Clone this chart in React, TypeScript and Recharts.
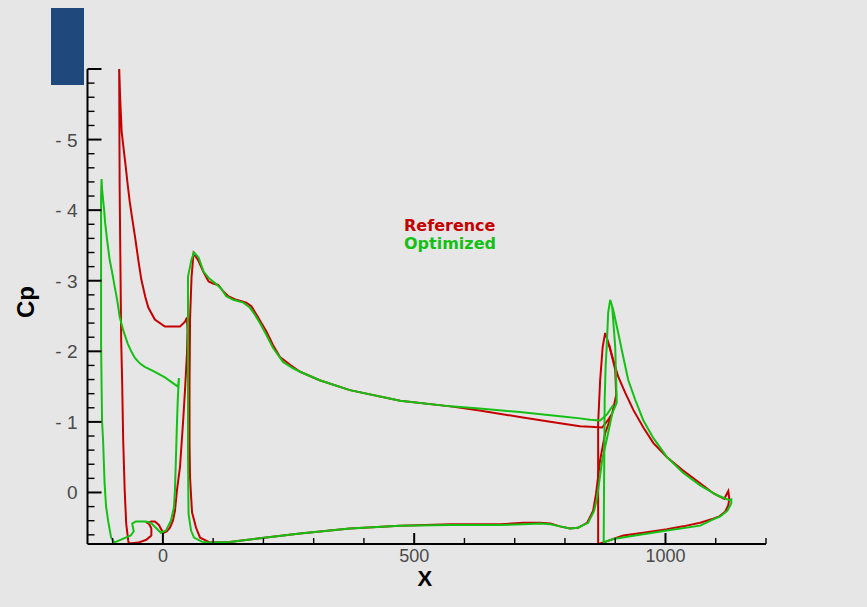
import React from 'react';
import { LineChart, Line, XAxis, YAxis, Legend } from 'recharts';

type Pt = { x: number; cp: number };

// Reference configuration: slat, main element, flap (closed surface loops)
const refSlat: Pt[] = [
  { x: 48, cp: -2.48 }, { x: 44, cp: -2.42 }, { x: 34, cp: -2.35 }, { x: 24, cp: -2.35 }, { x: 4, cp: -2.35 },
  { x: -16, cp: -2.45 }, { x: -29, cp: -2.62 }, { x: -35, cp: -2.77 }, { x: -43, cp: -3.02 }, { x: -49, cp: -3.3 },
  { x: -55, cp: -3.6 }, { x: -61, cp: -3.88 }, { x: -66, cp: -4.12 }, { x: -70, cp: -4.36 }, { x: -74, cp: -4.62 },
  { x: -78, cp: -4.86 }, { x: -82, cp: -5.11 }, { x: -85, cp: -5.58 }, { x: -87, cp: -6.02 },
  { x: -86, cp: -4.3 }, { x: -83, cp: -2.16 }, { x: -81, cp: -1.55 }, { x: -79, cp: -0.74 }, { x: -76, cp: -0.03 },
  { x: -73, cp: 0.44 }, { x: -69, cp: 0.68 }, { x: -68, cp: 0.72 },
  { x: -62, cp: 0.72 }, { x: -49, cp: 0.71 }, { x: -33, cp: 0.67 }, { x: -23, cp: 0.61 }, { x: -23, cp: 0.51 },
  { x: -27, cp: 0.45 }, { x: -31, cp: 0.43 }, { x: -23, cp: 0.41 }, { x: -16, cp: 0.41 }, { x: -8, cp: 0.46 },
  { x: -2, cp: 0.54 }, { x: 2, cp: 0.57 }, { x: 8, cp: 0.55 }, { x: 14, cp: 0.5 }, { x: 20, cp: 0.4 },
  { x: 24, cp: 0.26 }, { x: 28, cp: -0.03 }, { x: 34, cp: -0.36 }, { x: 40, cp: -0.98 }, { x: 44, cp: -1.45 },
  { x: 48, cp: -1.98 }, { x: 49, cp: -2.3 }, { x: 48, cp: -2.48 },
];

const refMain: Pt[] = [
  { x: 894, cp: -1.12 }, { x: 884, cp: -1.01 }, { x: 874, cp: -0.92 }, { x: 850, cp: -0.93 }, { x: 830, cp: -0.94 },
  { x: 790, cp: -0.98 }, { x: 710, cp: -1.07 }, { x: 630, cp: -1.16 }, { x: 572, cp: -1.22 }, { x: 472, cp: -1.3 },
  { x: 372, cp: -1.45 }, { x: 312, cp: -1.59 }, { x: 273, cp: -1.71 }, { x: 253, cp: -1.81 }, { x: 233, cp: -1.92 },
  { x: 219, cp: -2.09 }, { x: 206, cp: -2.28 }, { x: 196, cp: -2.4 }, { x: 186, cp: -2.52 }, { x: 176, cp: -2.64 },
  { x: 166, cp: -2.69 }, { x: 146, cp: -2.73 }, { x: 130, cp: -2.78 }, { x: 120, cp: -2.85 }, { x: 110, cp: -2.94 },
  { x: 100, cp: -2.96 }, { x: 91, cp: -2.99 }, { x: 81, cp: -3.12 }, { x: 71, cp: -3.28 }, { x: 61, cp: -3.39 },
  { x: 57, cp: -3.05 }, { x: 54, cp: -2.45 }, { x: 53, cp: -1.5 }, { x: 53, cp: -0.7 }, { x: 54, cp: -0.21 },
  { x: 58, cp: 0.28 }, { x: 66, cp: 0.5 }, { x: 74, cp: 0.64 }, { x: 94, cp: 0.71 },
  { x: 133, cp: 0.7 }, { x: 193, cp: 0.65 }, { x: 273, cp: 0.58 }, { x: 372, cp: 0.51 }, { x: 472, cp: 0.47 },
  { x: 572, cp: 0.45 }, { x: 671, cp: 0.45 }, { x: 717, cp: 0.43 }, { x: 751, cp: 0.43 }, { x: 771, cp: 0.44 },
  { x: 790, cp: 0.48 }, { x: 810, cp: 0.51 }, { x: 826, cp: 0.5 }, { x: 844, cp: 0.43 }, { x: 856, cp: 0.26 },
  { x: 862, cp: 0.01 }, { x: 870, cp: -0.46 }, { x: 880, cp: -0.84 }, { x: 894, cp: -1.12 }, { x: 902, cp: -1.38 },
  { x: 900, cp: -1.74 }, { x: 888, cp: -2.09 },
];

const refFlap: Pt[] = [
  { x: 866, cp: 0.75 }, { x: 866, cp: -0.98 }, { x: 870, cp: -1.59 }, { x: 875, cp: -2.06 }, { x: 880, cp: -2.26 },
  { x: 886, cp: -2.13 }, { x: 896, cp: -1.88 }, { x: 906, cp: -1.64 }, { x: 920, cp: -1.41 }, { x: 936, cp: -1.17 },
  { x: 956, cp: -0.92 }, { x: 976, cp: -0.7 }, { x: 1003, cp: -0.5 }, { x: 1035, cp: -0.31 }, { x: 1069, cp: -0.13 },
  { x: 1095, cp: 0.01 }, { x: 1117, cp: 0.09 }, { x: 1125, cp: -0.02 }, { x: 1127, cp: 0.09 }, { x: 1125, cp: 0.18 },
  { x: 1119, cp: 0.27 }, { x: 1107, cp: 0.34 }, { x: 1095, cp: 0.37 }, { x: 1069, cp: 0.43 }, { x: 1035, cp: 0.48 },
  { x: 1003, cp: 0.52 }, { x: 956, cp: 0.57 }, { x: 916, cp: 0.61 }, { x: 896, cp: 0.66 }, { x: 880, cp: 0.7 },
  { x: 870, cp: 0.72 }, { x: 866, cp: 0.75 },
];

// Optimized configuration
const optSlat: Pt[] = [
  { x: 32, cp: -1.62 }, { x: 30, cp: -1.5 }, { x: 20, cp: -1.55 }, { x: 4, cp: -1.63 }, { x: -16, cp: -1.71 },
  { x: -36, cp: -1.78 }, { x: -46, cp: -1.83 }, { x: -56, cp: -1.91 }, { x: -63, cp: -2.0 }, { x: -70, cp: -2.11 },
  { x: -79, cp: -2.3 }, { x: -86, cp: -2.49 }, { x: -91, cp: -2.73 }, { x: -96, cp: -2.92 }, { x: -101, cp: -3.12 },
  { x: -106, cp: -3.3 }, { x: -111, cp: -3.58 }, { x: -115, cp: -3.83 }, { x: -117, cp: -4.01 }, { x: -119, cp: -4.15 },
  { x: -121, cp: -4.3 }, { x: -122, cp: -4.44 },
  { x: -123, cp: -4.2 }, { x: -123, cp: -2.1 }, { x: -121, cp: -1.0 }, { x: -119, cp: -0.74 }, { x: -116, cp: -0.13 },
  { x: -113, cp: 0.2 }, { x: -109, cp: 0.4 }, { x: -103, cp: 0.64 }, { x: -97, cp: 0.71 },
  { x: -64, cp: 0.61 }, { x: -58, cp: 0.55 }, { x: -60, cp: 0.48 }, { x: -61, cp: 0.44 }, { x: -54, cp: 0.41 },
  { x: -34, cp: 0.41 }, { x: -24, cp: 0.43 }, { x: -14, cp: 0.5 }, { x: -4, cp: 0.57 }, { x: 6, cp: 0.54 },
  { x: 16, cp: 0.4 }, { x: 22, cp: 0.21 }, { x: 24, cp: -0.03 }, { x: 26, cp: -0.5 }, { x: 28, cp: -0.98 },
  { x: 30, cp: -1.38 }, { x: 32, cp: -1.62 },
];

const optMain: Pt[] = [
  { x: 896, cp: -1.24 }, { x: 884, cp: -1.11 }, { x: 870, cp: -1.02 }, { x: 850, cp: -1.03 }, { x: 830, cp: -1.05 },
  { x: 790, cp: -1.08 }, { x: 710, cp: -1.14 }, { x: 630, cp: -1.19 }, { x: 572, cp: -1.22 }, { x: 472, cp: -1.3 },
  { x: 372, cp: -1.45 }, { x: 312, cp: -1.59 }, { x: 273, cp: -1.71 }, { x: 259, cp: -1.76 }, { x: 239, cp: -1.85 },
  { x: 219, cp: -2.05 }, { x: 206, cp: -2.23 }, { x: 193, cp: -2.4 }, { x: 183, cp: -2.52 }, { x: 173, cp: -2.62 },
  { x: 160, cp: -2.69 }, { x: 140, cp: -2.73 }, { x: 126, cp: -2.78 }, { x: 116, cp: -2.89 }, { x: 103, cp: -2.97 },
  { x: 91, cp: -3.04 }, { x: 81, cp: -3.13 }, { x: 71, cp: -3.33 }, { x: 62, cp: -3.4 },
  { x: 57, cp: -3.3 }, { x: 54, cp: -3.2 }, { x: 50, cp: -3.06 }, { x: 50, cp: -2.0 }, { x: 50, cp: -0.5 },
  { x: 51, cp: 0.3 }, { x: 56, cp: 0.54 }, { x: 62, cp: 0.64 }, { x: 78, cp: 0.7 }, { x: 94, cp: 0.71 },
  { x: 133, cp: 0.7 }, { x: 193, cp: 0.65 }, { x: 273, cp: 0.58 }, { x: 372, cp: 0.51 }, { x: 472, cp: 0.47 },
  { x: 572, cp: 0.46 }, { x: 671, cp: 0.46 }, { x: 717, cp: 0.45 }, { x: 751, cp: 0.44 }, { x: 771, cp: 0.45 },
  { x: 790, cp: 0.48 }, { x: 810, cp: 0.51 }, { x: 826, cp: 0.5 }, { x: 846, cp: 0.43 }, { x: 858, cp: 0.26 },
  { x: 864, cp: 0.07 }, { x: 874, cp: -0.46 }, { x: 884, cp: -0.78 }, { x: 894, cp: -1.12 }, { x: 903, cp: -1.27 },
  { x: 900, cp: -2.06 }, { x: 894, cp: -2.63 },
];

const optFlap: Pt[] = [
  { x: 877, cp: 0.73 }, { x: 879, cp: -1.31 }, { x: 881, cp: -1.8 }, { x: 883, cp: -2.06 }, { x: 886, cp: -2.55 },
  { x: 890, cp: -2.73 }, { x: 896, cp: -2.59 }, { x: 906, cp: -2.26 }, { x: 916, cp: -1.92 }, { x: 926, cp: -1.59 },
  { x: 940, cp: -1.31 }, { x: 956, cp: -1.02 }, { x: 976, cp: -0.77 }, { x: 1003, cp: -0.5 }, { x: 1035, cp: -0.28 },
  { x: 1069, cp: -0.1 }, { x: 1103, cp: 0.04 }, { x: 1127, cp: 0.11 }, { x: 1131, cp: 0.1 }, { x: 1131, cp: 0.15 },
  { x: 1129, cp: 0.18 }, { x: 1123, cp: 0.26 }, { x: 1109, cp: 0.34 }, { x: 1095, cp: 0.38 }, { x: 1069, cp: 0.47 },
  { x: 1003, cp: 0.54 }, { x: 949, cp: 0.6 }, { x: 896, cp: 0.66 }, { x: 880, cp: 0.7 }, { x: 877, cp: 0.73 },
];

const seriesNames = ['Reference', 'Optimized'];
const xMajorTicks = [0, 500, 1000];
const yMajorTicks = [-6, -5, -4, -3, -2, -1, 0];
const xDomain = [-150, 1200];
const yDomain = [-6, 0.73];

// minor tick spacing
const X_STEP = 100;
const Y_STEP = 0.2;

const xTicks: number[] = [];
for (let v = -100; v <= xDomain[1]; v += X_STEP) xTicks.push(v);
const yTicks: number[] = [];
for (let i = 0; -6 + i * Y_STEP <= 0.6 + 1e-9; i++) yTicks.push(Math.round((-6 + i * Y_STEP) * 10) / 10);

const W = 867;
const H = 607;
const MARGIN = { top: 69, right: 101, bottom: 23, left: 27.5 };
const Y_AXIS_W = 60;
const X_AXIS_H = 40;
const PLOT_LEFT = MARGIN.left + Y_AXIS_W;
const PLOT_BOTTOM = H - MARGIN.bottom - X_AXIS_H;

const RED = '#c60000';
const GREEN = '#14c014';
const TICK_FONT = '"Liberation Sans", Arial, sans-serif';

const fmtY = (v: number) => (v < 0 ? `- ${Math.abs(v)}` : '0');

const YTick = (props: any) => {
  const v = props.payload.value;
  const y = props.y;
  const major = yMajorTicks.includes(v);
  return (
    <g>
      <line x1={PLOT_LEFT} x2={PLOT_LEFT + (major ? 14 : 7)} y1={y} y2={y} stroke="#000" strokeWidth={major ? 2 : 1.4} />
      {major && (
        <text x={PLOT_LEFT - 10} y={y + 7} textAnchor="end" fontFamily={TICK_FONT} fontSize={19} fill="#4a4a4a">
          {fmtY(v)}
        </text>
      )}
    </g>
  );
};

const XTick = (props: any) => {
  const v = props.payload.value;
  const x = props.x;
  const major = xMajorTicks.includes(v);
  return (
    <g>
      <line x1={x} x2={x} y1={PLOT_BOTTOM} y2={PLOT_BOTTOM - (major ? 11 : 6)} stroke="#000" strokeWidth={major ? 2 : 1.4} />
      {major && (
        <text x={x} y={PLOT_BOTTOM + 18} textAnchor="middle" fontFamily={TICK_FONT} fontSize={18} fill="#4a4a4a">
          {v}
        </text>
      )}
    </g>
  );
};

// legend: plain coloured names, in series order
const renderLegend = (props: any) => {
  const payload = props.payload || [];
  const items = seriesNames
    .map((name) => payload.find((e: any) => e.value === name))
    .filter(Boolean);
  return (
    <div style={{ fontFamily: '"DejaVu Sans", sans-serif', fontWeight: 'bold', fontSize: 16, lineHeight: '18px' }}>
      {items.map((e: any) => (
        <div key={e.value} style={{ color: e.color }}>{e.value}</div>
      ))}
    </div>
  );
};

export default function App() {
  const lineProps = { type: 'linear' as const, dataKey: 'cp', dot: false, strokeWidth: 2, isAnimationActive: false };
  return (
    <div style={{ position: 'absolute', left: 0, top: 0, width: W, height: H, background: '#e6e6e6' }}>
      <LineChart width={W} height={H} margin={MARGIN}>
        <XAxis
          type="number"
          dataKey="x"
          domain={xDomain}
          allowDataOverflow
          ticks={xTicks}
          interval={0}
          tick={<XTick />}
          tickLine={false}
          axisLine={{ stroke: '#000', strokeWidth: 2 }}
          height={X_AXIS_H}
          label={{
            content: (p: any) => (
              <text
                x={p.viewBox.x + p.viewBox.width / 2 - 2}
                y={p.viewBox.y + 42}
                textAnchor="middle"
                fontFamily={TICK_FONT}
                fontWeight="bold"
                fontSize={22}
                fill="#000"
              >
                X
              </text>
            ),
          }}
        />
        <YAxis
          type="number"
          dataKey="cp"
          domain={yDomain}
          reversed
          allowDataOverflow
          ticks={yTicks}
          interval={0}
          tick={<YTick />}
          tickLine={false}
          axisLine={{ stroke: '#000', strokeWidth: 2 }}
          width={Y_AXIS_W}
          label={{
            content: () => (
              <text
                x={25}
                y={302}
                transform="rotate(-90, 25, 302)"
                textAnchor="middle"
                dominantBaseline="central"
                fontFamily={TICK_FONT}
                fontWeight="bold"
                fontSize={24}
                fill="#000"
              >
                Cp
              </text>
            ),
          }}
        />
        <Legend
          layout="vertical"
          align="center"
          verticalAlign="middle"
          wrapperStyle={{ left: 404, top: 217, width: 'auto' }}
          content={renderLegend}
        />
        <Line {...lineProps} data={refSlat} stroke={RED} name={seriesNames[0]} />
        <Line {...lineProps} data={refMain} stroke={RED} name="ref-main" legendType="none" />
        <Line {...lineProps} data={refFlap} stroke={RED} name="ref-flap" legendType="none" />
        <Line {...lineProps} data={optSlat} stroke={GREEN} name={seriesNames[1]} />
        <Line {...lineProps} data={optMain} stroke={GREEN} name="opt-main" legendType="none" />
        <Line {...lineProps} data={optFlap} stroke={GREEN} name="opt-flap" legendType="none" />
      </LineChart>
      <div style={{ position: 'absolute', left: 51, top: 8, width: 33, height: 77, background: '#1f497d' }} />
    </div>
  );
}
